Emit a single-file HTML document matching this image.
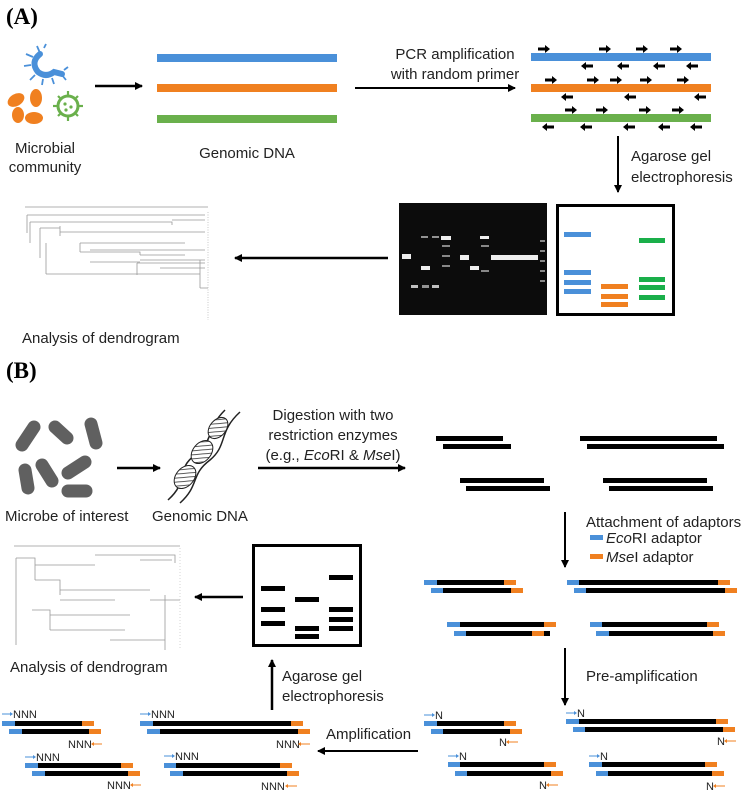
<!DOCTYPE html>
<html><head><meta charset="utf-8"><style>
body{margin:0;background:#fff}
svg{display:block}
text{font-family:"Liberation Sans",Arial,sans-serif;fill:#222}
</style></head><body>
<svg width="749" height="790" viewBox="0 0 749 790" xmlns="http://www.w3.org/2000/svg">
<defs>
<marker id="ah" markerWidth="8" markerHeight="8" refX="7" refY="4" orient="auto" markerUnits="userSpaceOnUse"><path d="M0,0 L8,4 L0,8z" fill="#000"/></marker>
<g id="pr"><rect x="0" y="-1.5" width="8" height="3" fill="#000"/><path d="M7,-4 L12,0 L7,4z" fill="#000"/></g>
<g id="pl"><rect x="4" y="-1.5" width="8" height="3" fill="#000"/><path d="M5,-4 L0,0 L5,4z" fill="#000"/></g>
<pattern id="hatch" width="4" height="4" patternUnits="userSpaceOnUse" patternTransform="rotate(45)"><rect width="4" height="4" fill="#fff"/><line x1="0" y1="0" x2="0" y2="4" stroke="#333" stroke-width="1.6"/></pattern>
</defs>

<!-- (A) -->
<text x="6" y="24" style="font-family:'Liberation Serif',serif;font-weight:bold;font-size:23px;fill:#000">(A)</text>
<!-- microbes -->
<g fill="none" stroke="#4a90d9" stroke-width="6" stroke-linecap="round">
<path d="M40,54 Q30,62 38,72 Q46,78 54,72 L62,74"/>
</g>
<g stroke="#4a90d9" stroke-width="1.8">
<line x1="40" y1="53" x2="37" y2="46"/><line x1="33" y1="57" x2="26" y2="54"/><line x1="31" y1="65" x2="24" y2="66"/><line x1="35" y1="75" x2="30" y2="80"/><line x1="43" y1="79" x2="42" y2="85"/><line x1="52" y1="78" x2="54" y2="84"/><line x1="62" y1="75" x2="66" y2="80"/><line x1="64" y1="70" x2="68" y2="67"/><line x1="44" y1="48" x2="46" y2="44"/>
</g>
<g fill="#f08020">
<ellipse cx="16" cy="100" rx="9" ry="6" transform="rotate(-30 16 100)"/><ellipse cx="36" cy="98" rx="6" ry="9"/><ellipse cx="18" cy="115" rx="6" ry="8"/><ellipse cx="34" cy="118" rx="9" ry="6"/></g>
<circle cx="68" cy="106" r="10" fill="none" stroke="#6ab04c" stroke-width="3"/>
<g stroke="#6ab04c" stroke-width="2.2"><line x1="68" y1="91" x2="68" y2="95"/><line x1="68" y1="117" x2="68" y2="121"/><line x1="53" y1="106" x2="57" y2="106"/><line x1="79" y1="106" x2="83" y2="106"/><line x1="58" y1="96" x2="60" y2="98"/><line x1="76" y1="114" x2="78" y2="116"/><line x1="78" y1="96" x2="76" y2="98"/><line x1="58" y1="116" x2="60" y2="114"/></g>
<g fill="#6ab04c"><circle cx="65" cy="104" r="1.6"/><circle cx="71" cy="107" r="1.6"/><circle cx="66" cy="110" r="1.6"/></g>
<text x="45" y="153" font-size="15" text-anchor="middle">Microbial</text>
<text x="45" y="172" font-size="15" text-anchor="middle">community</text>
<line x1="95" y1="86" x2="142" y2="86" stroke="#000" stroke-width="2.5" marker-end="url(#ah)"/>
<rect x="157" y="54" width="180" height="8" fill="#4a90d9"/>
<rect x="157" y="84" width="180" height="8" fill="#f08020"/>
<rect x="157" y="115" width="180" height="8" fill="#6ab04c"/>
<text x="247" y="158" font-size="15" text-anchor="middle">Genomic DNA</text>
<text x="455" y="59" font-size="15" text-anchor="middle">PCR amplification</text>
<text x="455" y="79" font-size="15" text-anchor="middle">with random primer</text>
<line x1="355" y1="88" x2="515" y2="88" stroke="#000" stroke-width="2" marker-end="url(#ah)"/>
<rect x="531" y="53" width="180" height="8" fill="#4a90d9"/>
<rect x="531" y="84" width="180" height="8" fill="#f08020"/>
<rect x="531" y="114" width="180" height="8" fill="#6ab04c"/>
<g>
<use href="#pr" x="538" y="49"/><use href="#pr" x="599" y="49"/><use href="#pr" x="636" y="49"/><use href="#pr" x="670" y="49"/>
<use href="#pl" x="581" y="66"/><use href="#pl" x="617" y="66"/><use href="#pl" x="653" y="66"/><use href="#pl" x="686" y="66"/>
<use href="#pr" x="545" y="80"/><use href="#pr" x="587" y="80"/><use href="#pr" x="610" y="80"/><use href="#pr" x="640" y="80"/><use href="#pr" x="677" y="80"/>
<use href="#pl" x="561" y="97"/><use href="#pl" x="624" y="97"/><use href="#pl" x="694" y="97"/>
<use href="#pr" x="565" y="110"/><use href="#pr" x="596" y="110"/><use href="#pr" x="639" y="110"/><use href="#pr" x="672" y="110"/>
<use href="#pl" x="542" y="127"/><use href="#pl" x="580" y="127"/><use href="#pl" x="623" y="127"/><use href="#pl" x="658" y="127"/><use href="#pl" x="690" y="127"/>
</g>
<line x1="618" y1="136" x2="618" y2="192" stroke="#000" stroke-width="2" marker-end="url(#ah)"/>
<text x="631" y="161" font-size="15">Agarose gel</text>
<text x="631" y="182" font-size="15">electrophoresis</text>
<!-- gel photo -->
<rect x="399" y="203" width="148" height="112" fill="#0c0c0c"/>
<g fill="#eee">
<rect x="402" y="254" width="9" height="5"/><rect x="411" y="285" width="7" height="3" opacity=".8"/><rect x="422" y="285" width="7" height="3" opacity=".6"/><rect x="432" y="285" width="7" height="3" opacity=".8"/>
<rect x="421" y="266" width="9" height="4"/><rect x="441" y="236" width="10" height="4"/><rect x="460" y="255" width="9" height="5"/><rect x="470" y="266" width="9" height="4"/><rect x="480" y="236" width="9" height="3"/>
<rect x="491" y="255" width="47" height="5"/><rect x="421" y="236" width="7" height="2" opacity=".6"/><rect x="432" y="236" width="7" height="2" opacity=".6"/>
</g>
<g fill="#888"><rect x="540" y="240" width="5" height="2"/><rect x="540" y="250" width="5" height="2"/><rect x="540" y="260" width="5" height="2"/><rect x="540" y="270" width="5" height="2"/><rect x="540" y="280" width="5" height="2"/><rect x="442" y="245" width="8" height="2"/><rect x="442" y="255" width="8" height="2"/><rect x="442" y="265" width="8" height="2"/><rect x="481" y="245" width="8" height="2"/><rect x="481" y="270" width="8" height="2"/></g>
<rect x="557.5" y="205.5" width="116" height="109" fill="#fff" stroke="#000" stroke-width="3"/>
<g fill="#4a90d9"><rect x="564" y="232" width="27" height="5"/><rect x="564" y="270" width="27" height="5"/><rect x="564" y="280" width="27" height="5"/><rect x="564" y="289" width="27" height="5"/></g>
<g fill="#f08020"><rect x="601" y="284" width="27" height="5"/><rect x="601" y="294" width="27" height="5"/><rect x="601" y="302" width="27" height="5"/></g>
<g fill="#1aaf4a"><rect x="639" y="238" width="26" height="5"/><rect x="639" y="277" width="26" height="5"/><rect x="639" y="285" width="26" height="5"/><rect x="639" y="295" width="26" height="5"/></g>
<line x1="388" y1="258" x2="235" y2="258" stroke="#000" stroke-width="2.5" marker-end="url(#ah)"/>
<!-- dendrogram A -->
<g stroke="#999" stroke-width="0.8" fill="none">
<line x1="25" y1="207" x2="208" y2="207"/>
<path d="M27,215 V233 M27,215 H205 M30,222 V243 M30,222 H172 V225 M172,220 H205 M40,228 V258 M40,228 H60 M60,232 H205 M60,226 V236 M46,243 V274 M80,243 V252 M80,243 H185 M80,252 H140 V255 M140,255 H185 M90,250 H205 M90,262 H140 M140,260 H205 M137,263 V275 M137,263 H205 M160,268 H205 M46,274 H200 M200,260 V288 M200,288 H208"/>
</g>
<line x1="208" y1="212" x2="208" y2="320" stroke="#bbb" stroke-width="0.8" stroke-dasharray="1 1.5"/>
<text x="22" y="343" font-size="15">Analysis of dendrogram</text>

<!-- (B) -->
<text x="6" y="378" style="font-family:'Liberation Serif',serif;font-weight:bold;font-size:23px;fill:#000">(B)</text>
<g stroke="#606060" stroke-width="13" stroke-linecap="round">
<line x1="22" y1="445" x2="34" y2="427"/><line x1="55" y1="427" x2="67" y2="438"/><line x1="91" y1="424" x2="96" y2="443"/>
<line x1="25" y1="470" x2="28" y2="488"/><line x1="42" y1="465" x2="52" y2="481"/><line x1="68" y1="473" x2="85" y2="462"/><line x1="68" y1="491" x2="86" y2="491"/>
</g>
<text x="5" y="521" font-size="15">Microbe of interest</text>
<line x1="117" y1="468" x2="160" y2="468" stroke="#000" stroke-width="2.5" marker-end="url(#ah)"/>
<!-- helix -->
<path d="M168,500 C190,480 175,470 195,455 C215,440 205,430 225,410 M180,503 C200,485 190,475 210,460 C228,445 218,432 240,412" fill="none" stroke="#222" stroke-width="1.5"/>
<ellipse cx="185" cy="477" rx="9" ry="13" transform="rotate(40 185 477)" fill="url(#hatch)" stroke="#222"/>
<ellipse cx="202" cy="452" rx="9" ry="13" transform="rotate(40 202 452)" fill="url(#hatch)" stroke="#222"/>
<ellipse cx="218" cy="428" rx="8" ry="12" transform="rotate(40 218 428)" fill="url(#hatch)" stroke="#222"/>
<text x="152" y="521" font-size="15">Genomic DNA</text>
<text x="333" y="420" font-size="15" text-anchor="middle">Digestion with two</text>
<text x="333" y="440" font-size="15" text-anchor="middle">restriction enzymes</text>
<text x="333" y="460" font-size="15" text-anchor="middle">(e.g., <tspan font-style="italic">Eco</tspan>RI &amp; <tspan font-style="italic">Mse</tspan>I)</text>
<line x1="258" y1="468" x2="405" y2="468" stroke="#000" stroke-width="2.5" marker-end="url(#ah)"/>
<g fill="#000">
<rect x="436" y="436" width="67" height="5"/><rect x="443" y="444" width="68" height="5"/>
<rect x="580" y="436" width="137" height="5"/><rect x="587" y="444" width="137" height="5"/>
<rect x="460" y="478" width="84" height="5"/><rect x="466" y="486" width="84" height="5"/>
<rect x="603" y="478" width="104" height="5"/><rect x="609" y="486" width="104" height="5"/>
</g>
<line x1="565" y1="512" x2="565" y2="567" stroke="#000" stroke-width="2" marker-end="url(#ah)"/>
<text x="586" y="527" font-size="15">Attachment of adaptors</text>
<rect x="590" y="535" width="13" height="5" fill="#4a90d9"/><text x="606" y="543" font-size="15"><tspan font-style="italic">Eco</tspan>RI adaptor</text>
<rect x="590" y="554" width="13" height="5" fill="#f08020"/><text x="606" y="562" font-size="15"><tspan font-style="italic">Mse</tspan>I adaptor</text>

<g id="frags">
<rect x="424" y="580" width="13" height="5" fill="#4a90d9"/><rect x="437" y="580" width="67" height="5"/><rect x="504" y="580" width="12" height="5" fill="#f08020"/>
<rect x="431" y="588" width="12" height="5" fill="#4a90d9"/><rect x="443" y="588" width="68" height="5"/><rect x="511" y="588" width="12" height="5" fill="#f08020"/>
<rect x="567" y="580" width="12" height="5" fill="#4a90d9"/><rect x="579" y="580" width="139" height="5"/><rect x="718" y="580" width="12" height="5" fill="#f08020"/>
<rect x="574" y="588" width="12" height="5" fill="#4a90d9"/><rect x="586" y="588" width="139" height="5"/><rect x="725" y="588" width="12" height="5" fill="#f08020"/>
<rect x="447" y="622" width="13" height="5" fill="#4a90d9"/><rect x="460" y="622" width="84" height="5"/><rect x="544" y="622" width="12" height="5" fill="#f08020"/>
<rect x="454" y="631" width="12" height="5" fill="#4a90d9"/><rect x="466" y="631" width="84" height="5"/><rect x="532" y="631" width="12" height="5" fill="#f08020"/>
<rect x="590" y="622" width="12" height="5" fill="#4a90d9"/><rect x="602" y="622" width="105" height="5"/><rect x="707" y="622" width="12" height="5" fill="#f08020"/>
<rect x="596" y="631" width="13" height="5" fill="#4a90d9"/><rect x="609" y="631" width="104" height="5"/><rect x="713" y="631" width="12" height="5" fill="#f08020"/>
</g>
<line x1="565" y1="648" x2="565" y2="705" stroke="#000" stroke-width="2" marker-end="url(#ah)"/>
<text x="586" y="681" font-size="15">Pre-amplification</text>

<g font-size="11">
<g transform="translate(424,715)"><line x1="0" y1="0" x2="9" y2="0" stroke="#4a90d9"/><path d="M8,-2 L11,0 L8,2z" fill="#4a90d9"/><text x="11" y="4" font-size="11">N</text>
<rect x="0" y="6" width="13" height="5" fill="#4a90d9"/><rect x="13" y="6" width="67" height="5"/><rect x="80" y="6" width="12" height="5" fill="#f08020"/>
<rect x="7" y="14" width="12" height="5" fill="#4a90d9"/><rect x="19" y="14" width="67" height="5"/><rect x="86" y="14" width="12" height="5" fill="#f08020"/>
<text x="75" y="31" font-size="11">N</text><line x1="84" y1="27" x2="94" y2="27" stroke="#f08020"/><path d="M85,25 L82,27 L85,29z" fill="#f08020"/></g>
<g transform="translate(566,713)"><line x1="0" y1="0" x2="9" y2="0" stroke="#4a90d9"/><path d="M8,-2 L11,0 L8,2z" fill="#4a90d9"/><text x="11" y="4" font-size="11">N</text>
<rect x="0" y="6" width="13" height="5" fill="#4a90d9"/><rect x="13" y="6" width="137" height="5"/><rect x="150" y="6" width="12" height="5" fill="#f08020"/>
<rect x="7" y="14" width="12" height="5" fill="#4a90d9"/><rect x="19" y="14" width="138" height="5"/><rect x="157" y="14" width="12" height="5" fill="#f08020"/>
<text x="151" y="32" font-size="11">N</text><line x1="160" y1="28" x2="170" y2="28" stroke="#f08020"/><path d="M161,26 L158,28 L161,30z" fill="#f08020"/></g>
<g transform="translate(448,756)"><line x1="0" y1="0" x2="9" y2="0" stroke="#4a90d9"/><path d="M8,-2 L11,0 L8,2z" fill="#4a90d9"/><text x="11" y="4" font-size="11">N</text>
<rect x="0" y="6" width="12" height="5" fill="#4a90d9"/><rect x="12" y="6" width="84" height="5"/><rect x="96" y="6" width="12" height="5" fill="#f08020"/>
<rect x="7" y="15" width="12" height="5" fill="#4a90d9"/><rect x="19" y="15" width="84" height="5"/><rect x="103" y="15" width="12" height="5" fill="#f08020"/>
<text x="91" y="33" font-size="11">N</text><line x1="100" y1="29" x2="110" y2="29" stroke="#f08020"/><path d="M101,27 L98,29 L101,31z" fill="#f08020"/></g>
<g transform="translate(589,756)"><line x1="0" y1="0" x2="9" y2="0" stroke="#4a90d9"/><path d="M8,-2 L11,0 L8,2z" fill="#4a90d9"/><text x="11" y="4" font-size="11">N</text>
<rect x="0" y="6" width="13" height="5" fill="#4a90d9"/><rect x="13" y="6" width="103" height="5"/><rect x="116" y="6" width="12" height="5" fill="#f08020"/>
<rect x="7" y="15" width="12" height="5" fill="#4a90d9"/><rect x="19" y="15" width="104" height="5"/><rect x="123" y="15" width="12" height="5" fill="#f08020"/>
<text x="117" y="34" font-size="11">N</text><line x1="126" y1="30" x2="136" y2="30" stroke="#f08020"/><path d="M127,28 L124,30 L127,32z" fill="#f08020"/></g>
</g>

<text x="326" y="739" font-size="15">Amplification</text>
<line x1="418" y1="751" x2="318" y2="751" stroke="#000" stroke-width="2" marker-end="url(#ah)"/>

<g>
<g transform="translate(2,714)"><line x1="0" y1="0" x2="9" y2="0" stroke="#4a90d9"/><path d="M8,-2 L11,0 L8,2z" fill="#4a90d9"/><text x="11" y="4" font-size="11">NNN</text>
<rect x="0" y="7" width="13" height="5" fill="#4a90d9"/><rect x="13" y="7" width="67" height="5"/><rect x="80" y="7" width="12" height="5" fill="#f08020"/>
<rect x="7" y="15" width="13" height="5" fill="#4a90d9"/><rect x="20" y="15" width="67" height="5"/><rect x="87" y="15" width="12" height="5" fill="#f08020"/>
<text x="66" y="34" font-size="11">NNN</text><line x1="91" y1="30" x2="100" y2="30" stroke="#f08020"/><path d="M92,28 L89,30 L92,32z" fill="#f08020"/></g>
<g transform="translate(140,714)"><line x1="0" y1="0" x2="9" y2="0" stroke="#4a90d9"/><path d="M8,-2 L11,0 L8,2z" fill="#4a90d9"/><text x="11" y="4" font-size="11">NNN</text>
<rect x="0" y="7" width="13" height="5" fill="#4a90d9"/><rect x="13" y="7" width="138" height="5"/><rect x="151" y="7" width="12" height="5" fill="#f08020"/>
<rect x="7" y="15" width="13" height="5" fill="#4a90d9"/><rect x="20" y="15" width="138" height="5"/><rect x="158" y="15" width="12" height="5" fill="#f08020"/>
<text x="136" y="34" font-size="11">NNN</text><line x1="160" y1="30" x2="170" y2="30" stroke="#f08020"/><path d="M161,28 L158,30 L161,32z" fill="#f08020"/></g>
<g transform="translate(25,757)"><line x1="0" y1="0" x2="9" y2="0" stroke="#4a90d9"/><path d="M8,-2 L11,0 L8,2z" fill="#4a90d9"/><text x="11" y="4" font-size="11">NNN</text>
<rect x="0" y="6" width="13" height="5" fill="#4a90d9"/><rect x="13" y="6" width="83" height="5"/><rect x="96" y="6" width="12" height="5" fill="#f08020"/>
<rect x="7" y="14" width="13" height="5" fill="#4a90d9"/><rect x="20" y="14" width="83" height="5"/><rect x="103" y="14" width="12" height="5" fill="#f08020"/>
<text x="82" y="32" font-size="11">NNN</text><line x1="107" y1="28" x2="116" y2="28" stroke="#f08020"/><path d="M108,26 L105,28 L108,30z" fill="#f08020"/></g>
<g transform="translate(164,756)"><line x1="0" y1="0" x2="9" y2="0" stroke="#4a90d9"/><path d="M8,-2 L11,0 L8,2z" fill="#4a90d9"/><text x="11" y="4" font-size="11">NNN</text>
<rect x="0" y="7" width="12" height="5" fill="#4a90d9"/><rect x="12" y="7" width="104" height="5"/><rect x="116" y="7" width="12" height="5" fill="#f08020"/>
<rect x="6" y="15" width="13" height="5" fill="#4a90d9"/><rect x="19" y="15" width="104" height="5"/><rect x="123" y="15" width="12" height="5" fill="#f08020"/>
<text x="97" y="34" font-size="11">NNN</text><line x1="123" y1="30" x2="133" y2="30" stroke="#f08020"/><path d="M124,28 L121,30 L124,32z" fill="#f08020"/></g>
</g>

<line x1="272" y1="710" x2="272" y2="660" stroke="#000" stroke-width="2.5" marker-end="url(#ah)"/>
<text x="282" y="681" font-size="15">Agarose gel</text>
<text x="282" y="701" font-size="15">electrophoresis</text>
<rect x="253.5" y="545.5" width="107" height="100" fill="#fff" stroke="#000" stroke-width="3"/>
<g fill="#000"><rect x="261" y="586" width="24" height="5"/><rect x="261" y="607" width="24" height="5"/><rect x="261" y="621" width="24" height="5"/>
<rect x="295" y="597" width="24" height="5"/><rect x="295" y="626" width="24" height="5"/><rect x="295" y="634" width="24" height="5"/>
<rect x="329" y="575" width="24" height="5"/><rect x="329" y="607" width="24" height="5"/><rect x="329" y="617" width="24" height="5"/><rect x="329" y="626" width="24" height="5"/></g>
<line x1="243" y1="597" x2="195" y2="597" stroke="#000" stroke-width="2.5" marker-end="url(#ah)"/>
<!-- dendrogram B -->
<g stroke="#999" stroke-width="0.8" fill="none">
<line x1="14" y1="546" x2="180" y2="546"/>
<path d="M16,558 V645 M16,558 H35 V580 M35,565 H95 M35,580 H60 V595 M60,590 H150 M60,600 H115 M95,555 H175 V563 M140,560 H172 M32,610 H50 V630 M50,615 H130 M50,630 H125 M110,640 H165 M165,595 V650 M150,600 H180"/>
</g>
<line x1="180" y1="548" x2="180" y2="650" stroke="#bbb" stroke-width="0.6" stroke-dasharray="1 2"/>
<text x="10" y="672" font-size="15">Analysis of dendrogram</text>
</svg>
</body></html>
